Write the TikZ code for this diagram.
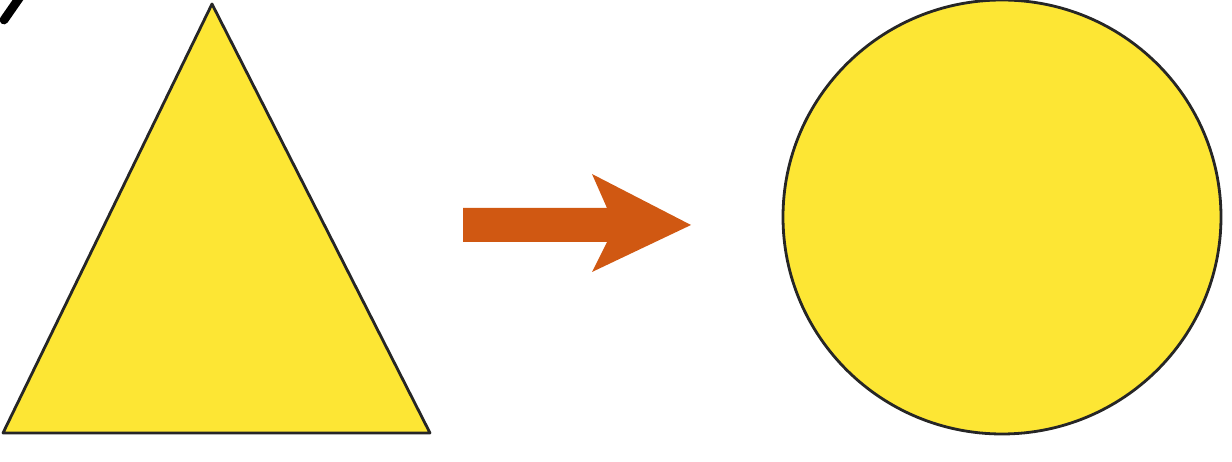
\documentclass[tikz,border=0pt]{standalone}
\usetikzlibrary{arrows.meta,positioning}
\definecolor{shapeyellow}{HTML}{FDE634}
\definecolor{arroworange}{HTML}{D05812}

\begin{document}
\begin{tikzpicture}[
  figfill/.style  = {fill=shapeyellow, draw=black!85, line width=1.6pt, line join=round},
  figarrow/.style = {fill=arroworange, draw=none},
  figmark/.style  = {draw=black, line width=5pt, line cap=round},
  x=0.02cm, y=-0.02cm,
]

  \useasboundingbox (0,0) rectangle (1232,462);

  % cut-off mark in the corner
  \coordinate (m1) at (4,20);
  \coordinate (m2) at (20,-3);
  \draw[figmark] (m1) -- (m2);

  % triangle
  \coordinate (tl) at (3,433);
  \coordinate (tr) at (430,433);
  \coordinate (tt) at (212,4);
  \filldraw[figfill] (tl) -- (tt) -- (tr) -- cycle;

  % arrow
  \coordinate (a0) at (463,208);
  \coordinate (a1) at (607,208);
  \coordinate (a2) at (592,174);
  \coordinate (a3) at (691,225);
  \coordinate (a4) at (592,272);
  \coordinate (a5) at (607,242);
  \coordinate (a6) at (463,242);
  \fill[figarrow] (a0) -- (a1) -- (a2) -- (a3) -- (a4) -- (a5) -- (a6) -- cycle;

  % circle
  \coordinate (c0) at (1002,217);
  \filldraw[figfill] (c0) circle[x radius=219, y radius=217];
\end{tikzpicture}
\end{document}
